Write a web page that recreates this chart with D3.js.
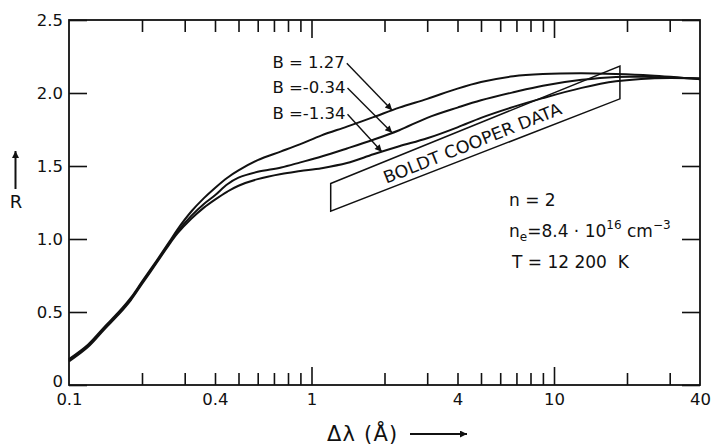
<!DOCTYPE html>
<html>
<head>
<meta charset="utf-8">
<script src="https://cdn.jsdelivr.net/npm/d3@7"></script>
<style>
  html, body { margin: 0; padding: 0; background: #fff; }
  svg { display: block; }
  text { font-family: "DejaVu Sans", sans-serif; fill: #111; }
</style>
</head>
<body>
<svg id="chart" width="713" height="446"></svg>
<script>
// Wavelength offsets Δλ (Å) at which the profiles are sampled
const dLambda = [0.1, 0.12, 0.14, 0.16, 0.18, 0.2, 0.23, 0.26, 0.28, 0.32, 0.36, 0.4, 0.45, 0.5,
                 0.6, 0.75, 0.9, 1.1, 1.4, 1.8, 2.3, 3, 4, 5, 6.8, 9, 13, 18, 25, 40];

// R for the three values of B
const rB127  = [0.178, 0.278, 0.398, 0.498, 0.598, 0.708, 0.853, 0.984, 1.065, 1.19, 1.28, 1.35, 1.42, 1.47,
                1.54, 1.60, 1.65, 1.71, 1.77, 1.835, 1.90, 1.96, 2.03, 2.075, 2.115, 2.13, 2.135, 2.13, 2.12, 2.095];
const rBm034 = [0.17, 0.27, 0.39, 0.49, 0.59, 0.70, 0.845, 0.975, 1.05, 1.16, 1.24, 1.30, 1.375, 1.42,
                1.46, 1.49, 1.525, 1.565, 1.62, 1.68, 1.745, 1.83, 1.90, 1.95, 2.005, 2.05, 2.09, 2.11, 2.11, 2.10];
const rBm134 = [0.162, 0.262, 0.382, 0.482, 0.582, 0.692, 0.837, 0.966, 1.038, 1.14, 1.215, 1.27, 1.325, 1.365,
                1.41, 1.445, 1.465, 1.485, 1.52, 1.58, 1.635, 1.69, 1.765, 1.83, 1.905, 1.965, 2.035, 2.08, 2.10, 2.10];

const seriesLabels = ["B = 1.27", "B =-0.34", "B =-1.34"];

// Boldt–Cooper measurement band: corners (Δλ, R), top-left → top-right → bottom-right → bottom-left
const bandLambda = [1.2, 18.7, 18.7, 1.2];
const bandR      = [1.38, 2.185, 1.96, 1.19];
const bandLabel  = "BOLDT COOPER DATA";

// Axis ticks
const xLabelTicks  = [0.1, 0.4, 1, 4, 10, 40];
const xTickLabels  = ["0.1", "0.4", "1", "4", "10", "40"];
const xDecadeTicks = [1, 10];
const xMinorTicks  = [0.2, 0.3, 0.4, 0.5, 0.6, 0.7, 0.8, 0.9, 2, 3, 4, 5, 6, 7, 8, 9, 20, 30];
const yTicks       = [0, 0.5, 1, 1.5, 2, 2.5];
const yTickLabels  = ["0", "0.5", "1.0", "1.5", "2.0", "2.5"];

// Where each pointer touches its curve (Δλ) and where its label sits (Δλ, R of baseline)
const pointerLambda = [2.15, 2.15, 1.95];
const labelLambda   = [0.69, 0.69, 0.69];
const labelR        = [2.17, 2.0, 1.82];

// ---------------------------------------------------------------
const svg = d3.select("#chart");
const frame = { left: 69, right: 700, top: 20, bottom: 385 };
const ink = "#111";

const x = d3.scaleLog().domain([0.1, 40]).range([frame.left, frame.right]);
const y = d3.scaleLinear().domain([0, 2.5]).range([frame.bottom, frame.top]);

const defs = svg.append("defs");
function addHead(id, w, h) {
  defs.append("marker")
    .attr("id", id)
    .attr("viewBox", "0 0 10 10")
    .attr("refX", 10).attr("refY", 5)
    .attr("markerWidth", w).attr("markerHeight", h)
    .attr("markerUnits", "userSpaceOnUse")
    .attr("orient", "auto")
    .append("path").attr("d", "M0,0 L10,5 L0,10 Z").attr("fill", ink);
}
addHead("head", 9, 7);
addHead("headBig", 10, 7);

// Plot frame
svg.append("rect")
  .attr("x", frame.left).attr("y", frame.top)
  .attr("width", frame.right - frame.left).attr("height", frame.bottom - frame.top)
  .attr("fill", "none").attr("stroke", ink).attr("stroke-width", 1.8);

function styleAxis(g) {
  g.select(".domain").remove();
  g.attr("font-family", "DejaVu Sans, sans-serif").attr("font-size", 16.5).attr("color", ink);
  g.selectAll(".tick line").attr("stroke-width", 1.6);
}

// Inward ticks on all four sides
const bottomAt = `translate(0,${frame.bottom})`, topAt = `translate(0,${frame.top})`;
svg.append("g").attr("transform", bottomAt)
  .call(d3.axisBottom(x).tickValues(xMinorTicks).tickSize(-12).tickFormat(""))
  .call(styleAxis);
svg.append("g").attr("transform", bottomAt)
  .call(d3.axisBottom(x).tickValues(xDecadeTicks).tickSize(-18).tickFormat(""))
  .call(styleAxis);
svg.append("g").attr("transform", bottomAt)
  .call(d3.axisBottom(x).tickValues(xLabelTicks).tickSize(0).tickPadding(8.5)
    .tickFormat(d => xTickLabels[xLabelTicks.indexOf(d)]))
  .call(styleAxis);
svg.append("g").attr("transform", topAt)
  .call(d3.axisTop(x).tickValues(xMinorTicks).tickSize(-12).tickFormat(""))
  .call(styleAxis);
svg.append("g").attr("transform", topAt)
  .call(d3.axisTop(x).tickValues(xDecadeTicks).tickSize(-18).tickFormat(""))
  .call(styleAxis);
const yAxisG = svg.append("g").attr("transform", `translate(${frame.left},0)`)
  .call(d3.axisLeft(y).tickValues(yTicks).tickSize(-18).tickPadding(6)
    .tickFormat(d => yTickLabels[yTicks.indexOf(d)]))
  .call(styleAxis);
// lift the zero label clear of the 0.1 label below it
yAxisG.selectAll(".tick text").filter(d => d === 0).attr("y", -4);
svg.append("g").attr("transform", `translate(${frame.right},0)`)
  .call(d3.axisRight(y).tickValues(yTicks).tickSize(-18).tickFormat(""))
  .call(styleAxis);

// Axis titles
svg.append("text").attr("x", 327).attr("y", 441)
  .attr("font-size", 21).attr("letter-spacing", 1.2).text("Δλ (Å)");
svg.append("line")
  .attr("x1", 410).attr("y1", 434).attr("x2", 467).attr("y2", 434)
  .attr("stroke", ink).attr("stroke-width", 2).attr("marker-end", "url(#headBig)");
svg.append("text").attr("x", 16).attr("y", 208).attr("text-anchor", "middle")
  .attr("font-size", 18).text("R");
svg.append("line")
  .attr("x1", 15.5).attr("y1", 189).attr("x2", 15.5).attr("y2", 151)
  .attr("stroke", ink).attr("stroke-width", 2).attr("marker-end", "url(#headBig)");

// Boldt–Cooper band
const band = bandLambda.map((l, i) => [x(l), y(bandR[i])]);
svg.append("path")
  .attr("d", "M" + band.map(p => p.join(",")).join("L") + "Z")
  .attr("fill", "none").attr("stroke", ink).attr("stroke-width", 1.5);
{
  const t = 0.49;
  const topP = [band[0][0] + t * (band[1][0] - band[0][0]), band[0][1] + t * (band[1][1] - band[0][1])];
  const botP = [band[3][0] + t * (band[2][0] - band[3][0]), band[3][1] + t * (band[2][1] - band[3][1])];
  const cx = (topP[0] + botP[0]) / 2, cy = (topP[1] + botP[1]) / 2 + 2;
  const ang = Math.atan2(band[1][1] - band[0][1] + band[2][1] - band[3][1],
                         band[1][0] - band[0][0] + band[2][0] - band[3][0]) * 180 / Math.PI;
  svg.append("text")
    .attr("transform", `translate(${cx},${cy}) rotate(${ang})`)
    .attr("text-anchor", "middle").attr("dominant-baseline", "central")
    .attr("font-size", 17).attr("textLength", 190).attr("lengthAdjust", "spacingAndGlyphs")
    .text(bandLabel);
}

// Profiles
const series = [rB127, rBm034, rBm134];
const line = d3.line().x(d => x(d[0])).y(d => y(d[1])).curve(d3.curveCatmullRom.alpha(0.5));
series.forEach(vals => {
  svg.append("path")
    .datum(dLambda.map((l, i) => [l, vals[i]]))
    .attr("d", line)
    .attr("fill", "none").attr("stroke", ink).attr("stroke-width", 2);
});

// R on a profile at a given Δλ (interpolated in log Δλ)
function rAt(vals, l) {
  const lx = Math.log10(l);
  for (let i = 0; i < dLambda.length - 1; i++) {
    const a = Math.log10(dLambda[i]), b = Math.log10(dLambda[i + 1]);
    if (lx >= a && lx <= b) return vals[i] + (vals[i + 1] - vals[i]) * (lx - a) / (b - a);
  }
  return vals[vals.length - 1];
}

// B labels with pointers
seriesLabels.forEach((lab, i) => {
  const tx = svg.append("text")
    .attr("x", x(labelLambda[i])).attr("y", y(labelR[i]))
    .attr("font-size", 16.5).text(lab);
  const bb = tx.node().getBBox();
  svg.append("line")
    .attr("x1", bb.x + bb.width + 2).attr("y1", y(labelR[i]) - 5)
    .attr("x2", x(pointerLambda[i])).attr("y2", y(rAt(series[i], pointerLambda[i])))
    .attr("stroke", ink).attr("stroke-width", 1.4).attr("marker-end", "url(#head)");
});

// Plasma parameters
const info = svg.append("g").attr("font-size", 17);
info.append("text").attr("x", 509).attr("y", 206).text("n = 2");
const ne = info.append("text").attr("x", 509).attr("y", 237);
ne.append("tspan").text("n");
ne.append("tspan").attr("font-size", 12).attr("dy", 4).text("e");
ne.append("tspan").attr("dy", -4).text("=8.4 · 10");
ne.append("tspan").attr("font-size", 12).attr("dy", -8).text("16");
ne.append("tspan").attr("dy", 8).text(" cm");
ne.append("tspan").attr("font-size", 12).attr("dy", -8).text("−3");
info.append("text").attr("x", 512).attr("y", 268).attr("xml:space", "preserve").text("T = 12 200  K");
</script>
</body>
</html>
